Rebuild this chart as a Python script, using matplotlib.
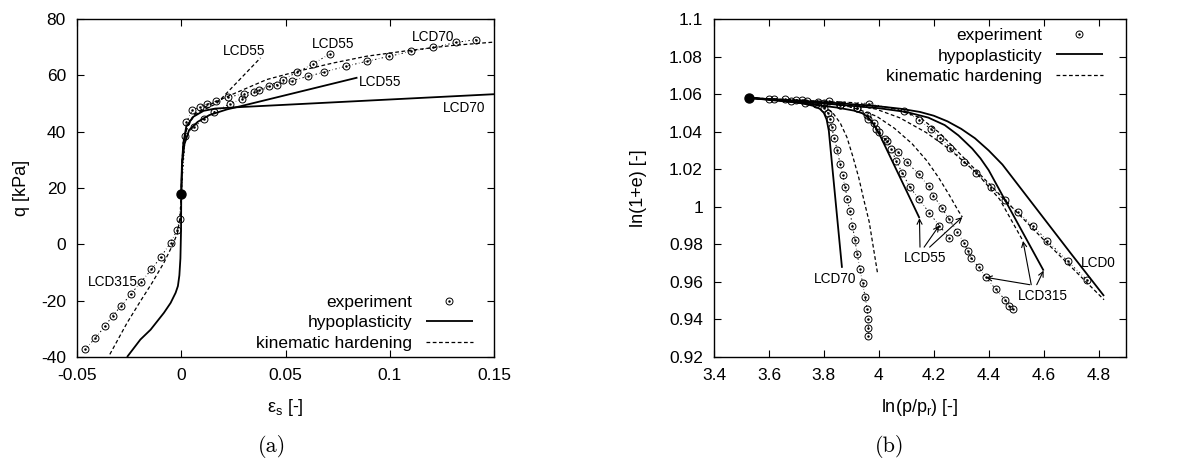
import matplotlib
matplotlib.use('Agg')
import matplotlib.pyplot as plt
from matplotlib.legend_handler import HandlerTuple
from matplotlib.ticker import FuncFormatter

plt.rcParams['font.family'] = ['Liberation Sans', 'DejaVu Sans']
plt.rcParams['mathtext.fontset'] = 'custom'
plt.rcParams['mathtext.rm'] = 'Liberation Sans'
plt.rcParams['mathtext.it'] = 'Liberation Sans:italic'
plt.rcParams['axes.unicode_minus'] = False

# ---------------- (a) q vs shear strain ----------------
start_eps, start_q = 0.0, 18.0

exp70_eps = [0, 0.0018, 0.0061, 0.0109, 0.0157, 0.0232, 0.0292, 0.0351, 0.0457, 0.0529,
             0.0607, 0.0687, 0.0788, 0.0891, 0.0995, 0.110, 0.1208, 0.132, 0.1415]
exp70_q = [18, 38.3, 41.7, 44.5, 47.0, 49.8, 51.7, 54.0, 56.7, 58.1,
           59.6, 61.2, 63.2, 65.0, 66.7, 68.5, 69.9, 71.7, 72.7]
exp55_eps = [0, 0.0024, 0.0053, 0.0088, 0.0125, 0.0165, 0.0225, 0.030, 0.0375, 0.042, 0.0487,
             0.0556, 0.0633, 0.0712]
exp55_q = [18, 43.3, 47.6, 48.8, 49.8, 50.8, 52.2, 53.5, 54.9, 56.3, 58.5, 61.1, 64.1, 67.6]
exp315_eps = [0, -0.0008, -0.002, -0.0051, -0.0098, -0.0143, -0.0192, -0.024, -0.0288, -0.0329,
              -0.0364, -0.0413, -0.046]
exp315_q = [18, 9.0, 5.0, 0.6, -4.5, -8.9, -13.3, -17.5, -21.9, -25.3, -28.9, -33.3, -37.2]

hypo70_eps = [0, 0.0003, 0.001, 0.0024, 0.0058, 0.0107, 0.0163, 0.0274, 0.15]
hypo70_q = [18, 28, 36, 41.8, 45.3, 47.4, 48.2, 48.7, 53.3]
hypo55_eps = [0, 0.0004, 0.0015, 0.0038, 0.0079, 0.0135, 0.0219, 0.0288, 0.0845]
hypo55_q = [18, 28, 35.5, 40.6, 43.5, 45.9, 47.9, 49.1, 59.2]
hypo315_eps = [0, -0.0001, -0.0004, -0.0009, -0.0016, -0.0027, -0.0051, -0.0083, -0.0147, -0.0196, -0.026]
hypo315_q = [18, 5, -5, -11, -14.8, -17.2, -20.8, -24.3, -30.3, -33.8, -40]

kin70_eps = [0, 0.0003, 0.001, 0.003, 0.006, 0.012, 0.02, 0.03, 0.041, 0.0556, 0.073, 0.089,
             0.11, 0.13, 0.15]
kin70_q = [18, 28, 36, 42, 46, 49, 51.8, 55, 58.5, 61.4, 64.4, 66.8, 68.9, 70.6, 71.8]
kin55_eps = [0, 0.0003, 0.001, 0.003, 0.006, 0.01, 0.017, 0.038]
kin55_q = [18, 28, 36, 42, 45.5, 47.5, 50, 66.2]
kin315_eps = [0, -0.0005, -0.0018, -0.0040, -0.0083, -0.014, -0.0196, -0.026, -0.0348]
kin315_q = [18, 10, 4, 0, -6.5, -13.7, -20.2, -27.9, -39.8]

# ---------------- (b) ln(1+e) vs ln(p/pr) ----------------
start_lnp, start_lne = 3.526, 1.058

bexp70_x = [3.526, 3.60, 3.68, 3.73, 3.77, 3.80, 3.815, 3.822, 3.828, 3.838, 3.849, 3.859, 3.868,
            3.877, 3.886, 3.894, 3.904, 3.913, 3.921, 3.931, 3.941, 3.950, 3.957, 3.961, 3.962, 3.962]
bexp70_y = [1.058, 1.0575, 1.0565, 1.0555, 1.0545, 1.0525, 1.050, 1.047, 1.0425, 1.0365, 1.030,
            1.023, 1.017, 1.0105, 1.004, 0.998, 0.990, 0.9825, 0.975, 0.967, 0.9595, 0.952, 0.9458,
            0.9403, 0.9355, 0.9314]
bexp55_x = [3.526, 3.66, 3.74, 3.80, 3.86, 3.92, 3.958, 3.981, 4.00, 4.021, 4.046, 4.062, 4.086,
            4.113, 4.146, 4.183, 4.22, 4.255]
bexp55_y = [1.058, 1.0572, 1.0562, 1.0553, 1.054, 1.0525, 1.049, 1.0445, 1.040, 1.036, 1.031,
            1.0245, 1.018, 1.0104, 1.0042, 0.9969, 0.990, 0.9836]
bexp315_x = [3.526, 3.70, 3.78, 3.86, 3.92, 3.96, 3.99, 4.03, 4.071, 4.103, 4.146, 4.181, 4.199,
             4.229, 4.256, 4.285, 4.310, 4.324, 4.337, 4.363, 4.390, 4.425, 4.460, 4.474, 4.489]
bexp315_y = [1.058, 1.057, 1.0558, 1.054, 1.0525, 1.047, 1.0415, 1.035, 1.0291, 1.0236, 1.0173,
             1.0109, 1.006, 0.9995, 0.9933, 0.9867, 0.9809, 0.9764, 0.9727, 0.9678, 0.9624, 0.9562,
             0.9504, 0.9474, 0.9453]
bexp0_x = [3.526, 3.62, 3.72, 3.82, 3.966, 4.091, 4.148, 4.191, 4.224, 4.26, 4.31, 4.355, 4.407,
           4.458, 4.506, 4.561, 4.613, 4.688, 4.758]
bexp0_y = [1.058, 1.0575, 1.057, 1.0562, 1.055, 1.051, 1.0462, 1.0412, 1.0368, 1.0315, 1.024,
           1.0179, 1.0106, 1.0035, 0.997, 0.9899, 0.982, 0.971, 0.961]

bhypo70_x = [3.526, 3.65, 3.72, 3.76, 3.785, 3.80, 3.81, 3.818, 3.866]
bhypo70_y = [1.058, 1.0565, 1.0552, 1.0538, 1.0522, 1.050, 1.0465, 1.0405, 0.9675]
bhypo55_x = [3.526, 3.70, 3.85, 3.91, 3.94, 3.96, 3.975, 3.99, 4.005, 4.148]
bhypo55_y = [1.058, 1.0555, 1.0528, 1.0512, 1.0498, 1.0478, 1.0452, 1.0418, 1.0378, 0.994]
bhypo315_x = [3.526, 3.80, 4.00, 4.10, 4.18, 4.24, 4.29, 4.34, 4.37, 4.40, 4.60]
bhypo315_y = [1.058, 1.055, 1.0525, 1.0505, 1.0475, 1.0435, 1.038, 1.031, 1.0258, 1.0195, 0.966]
bhypo0_x = [3.526, 3.70, 3.85, 4.00, 4.08, 4.15, 4.20, 4.25, 4.30, 4.35, 4.40, 4.45, 4.50, 4.60, 4.70, 4.82]
bhypo0_y = [1.058, 1.0565, 1.0552, 1.0535, 1.0522, 1.0505, 1.0485, 1.0455, 1.0415, 1.0365, 1.030,
            1.0225, 1.013, 0.994, 0.975, 0.9525]

bkin70_x = [3.526, 3.70, 3.78, 3.81, 3.835, 3.86, 3.884, 3.905, 3.927, 3.945, 3.965, 3.995]
bkin70_y = [1.058, 1.0565, 1.0545, 1.0525, 1.0495, 1.0445, 1.037, 1.027, 1.0155, 1.004, 0.992, 0.965]
bkin55_x = [3.526, 3.80, 3.88, 3.927, 3.992, 4.057, 4.121, 4.175, 4.218, 4.256, 4.288, 4.304]
bkin55_y = [1.058, 1.0555, 1.0538, 1.0518, 1.0482, 1.0418, 1.0336, 1.0245, 1.0155, 1.0064, 0.9982, 0.9945]
bkin315_x = [3.526, 3.85, 3.95, 3.99, 4.076, 4.173, 4.258, 4.355, 4.44, 4.525]
bkin315_y = [1.058, 1.0545, 1.0532, 1.052, 1.0474, 1.0395, 1.0306, 1.0182, 1.004, 0.9818]
bkin0_x = [3.526, 3.90, 4.05, 4.15, 4.22, 4.30, 4.40, 4.50, 4.60, 4.70, 4.82]
bkin0_y = [1.058, 1.0555, 1.0525, 1.0475, 1.0395, 1.0275, 1.0125, 0.9975, 0.9825, 0.968, 0.9505]

SOLID = dict(color='k', lw=1.3, solid_capstyle='butt')
DASHED = dict(color='k', lw=0.9, ls=(0, (3, 2)))
EXPLINE = dict(color='k', lw=0.7, ls=(0, (1.5, 2.5, 0.5, 2.5)))
CIRCLE = dict(ls='none', marker='o', ms=5, mfc='none', mec='k', mew=0.7)
DOT = dict(ls='none', marker='o', ms=1.8, mfc='k', mec='k', mew=0)


def exp_series(ax, x, y):
    # dotted connecting line plus circle-with-dot markers (first point is the start state)
    ax.plot(x, y, **EXPLINE)
    ax.plot(x[1:], y[1:], **CIRCLE)
    ax.plot(x[1:], y[1:], **DOT)


def style_axes(ax):
    ax.tick_params(direction='in', top=True, right=True, length=5, width=0.8,
                   labelsize=12.5, pad=8)
    for s in ax.spines.values():
        s.set_linewidth(1.0)
    ax.xaxis.set_major_formatter(FuncFormatter(lambda v, p: '%g' % round(v, 4)))
    ax.yaxis.set_major_formatter(FuncFormatter(lambda v, p: '%g' % round(v, 4)))


def add_legend(ax, **kw):
    c = ax.plot([], [], **CIRCLE)[0]
    d = ax.plot([], [], **DOT)[0]
    s = ax.plot([], [], **SOLID)[0]
    k = ax.plot([], [], **DASHED)[0]
    ax.legend([(c, d), s, k], ['experiment', 'hypoplasticity', 'kinematic hardening'],
              handler_map={tuple: HandlerTuple(ndivide=1)}, markerfirst=False,
              frameon=False, fontsize=12.5, handlelength=2.7, handletextpad=0.8,
              labelspacing=0.32, borderpad=0, **kw)


fig = plt.figure(figsize=(11.93, 4.59), dpi=100)
ax1 = fig.add_axes([77 / 1193, 102 / 459, 417 / 1193, 338 / 459])
ax2 = fig.add_axes([714 / 1193, 102 / 459, 412 / 1193, 338 / 459])

# panel (a)
for ex, eq in [(exp70_eps, exp70_q), (exp55_eps, exp55_q), (exp315_eps, exp315_q)]:
    exp_series(ax1, ex, eq)
for hx, hq in [(hypo70_eps, hypo70_q), (hypo55_eps, hypo55_q), (hypo315_eps, hypo315_q)]:
    ax1.plot(hx, hq, **SOLID)
for kx, kq in [(kin70_eps, kin70_q), (kin55_eps, kin55_q), (kin315_eps, kin315_q)]:
    ax1.plot(kx, kq, **DASHED)
ax1.plot([start_eps], [start_q], 'o', color='k', ms=6.5, zorder=5)

ax1.set_xlim(-0.05, 0.15)
ax1.set_ylim(-40, 80)
ax1.set_xticks([-0.05, 0, 0.05, 0.1, 0.15])
ax1.set_yticks(range(-40, 81, 20))
style_axes(ax1)
ax1.set_xlabel('ε$_\\mathregular{s}$ [-]', fontsize=13, labelpad=10)
ax1.set_ylabel('q [kPa]', fontsize=13, labelpad=8)

lab = dict(fontsize=9.8, ha='center', va='center')
ax1.text(0.030, 68.5, 'LCD55', **lab)
ax1.text(0.0727, 71.2, 'LCD55', **lab)
ax1.text(0.121, 73.6, 'LCD70', **lab)
ax1.text(0.0952, 57.5, 'LCD55', **lab)
ax1.text(0.1355, 48.4, 'LCD70', **lab)
ax1.text(-0.0329, -13.3, 'LCD315', **lab)
add_legend(ax1, loc='lower right', bbox_to_anchor=(0.97, -0.008))

# panel (b)
for ex, ey in [(bexp70_x, bexp70_y), (bexp55_x, bexp55_y), (bexp315_x, bexp315_y), (bexp0_x, bexp0_y)]:
    exp_series(ax2, ex, ey)
for hx, hy in [(bhypo70_x, bhypo70_y), (bhypo55_x, bhypo55_y), (bhypo315_x, bhypo315_y), (bhypo0_x, bhypo0_y)]:
    ax2.plot(hx, hy, **SOLID)
for kx, ky in [(bkin70_x, bkin70_y), (bkin55_x, bkin55_y), (bkin315_x, bkin315_y), (bkin0_x, bkin0_y)]:
    ax2.plot(kx, ky, **DASHED)
ax2.plot([start_lnp], [start_lne], 'o', color='k', ms=6.5, zorder=5)

ax2.set_xlim(3.4, 4.9)
ax2.set_ylim(0.92, 1.1)
ax2.set_xticks([3.4, 3.6, 3.8, 4.0, 4.2, 4.4, 4.6, 4.8])
ax2.set_yticks([0.92, 0.94, 0.96, 0.98, 1.0, 1.02, 1.04, 1.06, 1.08, 1.1])
style_axes(ax2)
ax2.set_xlabel('ln(p/p$_\\mathregular{r}$) [-]', fontsize=13, labelpad=10)
ax2.set_ylabel('ln(1+e) [-]', fontsize=13, labelpad=16)

arrow = dict(arrowstyle='->', color='k', lw=0.8, shrinkA=0, shrinkB=0, mutation_scale=9)
ax2.text(3.84, 0.9617, 'LCD70', **lab)
ax2.text(4.167, 0.9729, 'LCD55', **lab)
for tail, tip in [((4.150, 0.9785), (bhypo55_x[-1], bhypo55_y[-1])),
                  ((4.165, 0.9785), (bexp55_x[-2], bexp55_y[-2])),
                  ((4.185, 0.9785), (bkin55_x[-1], bkin55_y[-1]))]:
    ax2.annotate('', xy=tip, xytext=tail, arrowprops=arrow)
ax2.text(4.597, 0.9524, 'LCD315', **lab)
for tail, tip in [((4.55, 0.9585), (bexp315_x[-5], bexp315_y[-5])),
                  ((4.555, 0.9585), (bkin315_x[-1], bkin315_y[-1])),
                  ((4.575, 0.9585), (bhypo315_x[-1], bhypo315_y[-1]))]:
    ax2.annotate('', xy=tip, xytext=tail, arrowprops=arrow)
ax2.text(4.735, 0.970, 'LCD0', fontsize=9.8, ha='left', va='center')
add_legend(ax2, loc='upper right', bbox_to_anchor=(0.965, 1.0))

fig.text(272 / 1193, 1 - 447 / 459, '(a)', family='cmr10', fontsize=16, ha='center', va='center')
fig.text(890 / 1193, 1 - 447 / 459, '(b)', family='cmr10', fontsize=16, ha='center', va='center')

fig.savefig('out.png', dpi=100)
